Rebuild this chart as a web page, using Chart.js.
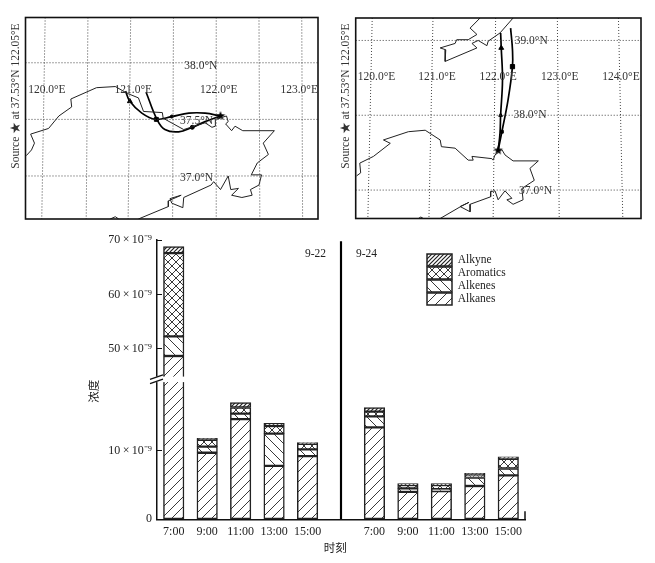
<!DOCTYPE html>
<html>
<head>
<meta charset="utf-8">
<title>Trajectories and VOC concentration</title>
<script src="https://cdn.jsdelivr.net/npm/chart.js@4"></script>
<style>
  html, body { margin: 0; background: #fff; }
  canvas { position: absolute; display: block; }
</style>
</head>
<body>
<canvas id="map1" width="330" height="230" style="left:0;top:0"></canvas>
<canvas id="map2" width="325" height="230" style="left:330px;top:0"></canvas>
<canvas id="bars" width="655" height="333" style="left:0;top:230px"></canvas>
<script>
// ---- bar chart data (units of 10^-9) ----
var times = ["7:00", "9:00", "11:00", "13:00", "15:00", "", "7:00", "9:00", "11:00", "13:00", "15:00"];
var alkanes   = [48.7, 9.7, 14.6, 7.8, 9.2, null, 13.4, 4.0, 4.1, 4.85, 6.4];
var alkenes   = [3.6, 0.9, 0.8, 4.7, 1.0, null, 1.6, 0.5, 0.3, 1.25, 1.0];
var aromatics = [15.3, 1.0, 0.9, 1.1, 0.8, null, 0.7, 0.5, 0.6, 0.4, 1.4];
var alkyne    = [1.2, 0.2, 0.7, 0.4, 0.2, null, 0.6, 0.2, 0.2, 0.2, 0.3];
var dividerTop = [null, null, null, null, null, 69.7, null, null, null, null, null];
var yTicks = [0, 10, 50, 60, 70];
var yTickText = ["0", "10\u2009×\u200910⁻⁹", "50\u2009×\u200910⁻⁹", "60\u2009×\u200910⁻⁹", "70\u2009×\u200910⁻⁹"];
var breakLow = 20, breakHigh = 43.9, breakFrac = 0.4912;

// ---- map 1 data ----
var m1CoastLon = [119.78,119.84,119.875,119.83,120.04,120.16,120.31,120.30,120.60,120.82,120.96,121.09,121.15,121.37,121.38,121.62,121.87,121.95,121.99,121.99,122.12,122.14,122.11,122.18,122.22,122.31,122.68,122.55,122.61,122.48,122.41,122.53,122.50,122.40,122.42,122.30,122.18,122.26,122.17,122.14,122.05,121.97,121.94,121.62,121.61,121.48,121.46,121.59,121.44,121.44,121.09];
var m1CoastLat = [37.18,37.23,37.29,37.37,37.42,37.53,37.61,37.68,37.78,37.79,37.73,37.69,37.57,37.56,37.51,37.41,37.47,37.43,37.44,37.50,37.53,37.48,37.46,37.40,37.44,37.40,37.40,37.29,37.19,37.115,37.01,37.01,36.92,36.88,36.83,36.81,36.83,36.89,36.88,37.00,36.88,36.95,36.92,36.81,36.72,36.76,36.80,36.83,36.78,36.73,36.62];
var m1IsleLon = [120.76,120.82,120.86];
var m1IsleLat = [36.62,36.64,36.62];
var m1TrackALon = [122.05,121.87,121.68,121.48,121.29,121.13,120.99,120.94];
var m1TrackALat = [37.53,37.555,37.555,37.525,37.50,37.555,37.66,37.75];
var m1TrackBLon = [122.05,121.87,121.72,121.56,121.40,121.31,121.18];
var m1TrackBLat = [37.53,37.48,37.43,37.39,37.41,37.495,37.74];
var m1GridTop = [120.0,120.5,121.0,121.5,122.0,122.5,123.0];
var m1GridBottom = [119.96,120.48,120.97,121.49,122.0,122.51,123.01];
var m1GridLat = [38.0,37.5,37.0];
var m1Text = ["120.0°E","121.0°E","122.0°E","123.0°E","38.0°N","37.5°N","37.0°N"];
var m1TextLon = [120.02,121.03,122.03,122.97,121.82,121.77,121.77];
var m1TextLat = [37.76,37.76,37.76,37.76,37.97,37.49,36.98];

// ---- map 2 data ----
var m2CoastLon = [119.78,119.845,119.83,120.05,120.32,120.21,120.61,120.88,121.12,121.14,121.36,121.57,121.65,121.63,121.95,121.97,122.0,122.11,122.16,122.24,122.29,122.695,122.56,122.63,122.43,122.45,122.29,122.19,122.27,122.16,122.05,122.0,121.93,121.93,121.60,121.60,121.44,121.58,121.45,121.12];
var m2CoastLat = [37.19,37.23,37.36,37.45,37.625,37.67,37.78,37.80,37.67,37.58,37.56,37.40,37.40,37.45,37.42,37.40,37.47,37.54,37.47,37.42,37.39,37.39,37.29,37.13,37.02,36.87,36.81,36.87,36.89,36.99,36.87,36.99,36.98,36.91,36.81,36.71,36.78,36.835,36.78,36.62];
var m2NorthLon = [121.76,121.60,121.71,121.57,121.385,121.36,121.12,121.21,121.20,121.71,121.63,121.73,121.87,121.89,122.08,122.29];
var m2NorthLat = [39.30,39.165,39.08,39.01,39.01,38.96,38.90,38.875,38.72,38.90,38.96,39.0,38.93,38.99,39.10,39.30];
var m2IsleLon = [120.77,120.81,120.85];
var m2IsleLat = [36.62,36.64,36.62];
var m2TrackALon = [122.05,122.08,122.09,122.12,122.10,122.09];
var m2TrackALat = [37.53,37.76,38.0,38.47,38.90,39.10];
var m2TrackBLon = [122.05,122.11,122.21,122.28,122.28,122.25];
var m2TrackBLat = [37.53,37.78,38.21,38.65,38.875,39.165];
var m2GridTop = [120.03,121.005,122.01,123.0,123.98];
var m2GridBottom = [119.96,120.94,121.97,123.03,124.05];
var m2GridLat = [39.0,38.0,37.0];
var m2Text = ["120.0°E","121.0°E","122.0°E","123.0°E","124.0°E","39.0°N","38.0°N","37.0°N"];
var m2TextLon = [120.10,121.07,122.05,123.04,124.02,122.58,122.56,122.65];
var m2TextLat = [38.51,38.51,38.51,38.51,38.51,38.99,38.0,36.99];

var sideText = "Source ★ at 37.53°N 122.05°E";
var SERIF = '"Liberation Serif", "Noto Sans CJK SC", serif';
var INK = "#222";

Chart.defaults.font.family = SERIF;
Chart.defaults.font.size = 11.5;
Chart.defaults.color = INK;

function zip(xs, ys) {
  return xs.map(function(x, i) { return { x: x, y: ys[i] }; });
}

// ---- maps ----
function starImage(r) {
  var c = document.createElement("canvas");
  c.width = c.height = r * 2 + 2;
  var g = c.getContext("2d");
  g.beginPath();
  for (var i = 0; i < 10; i++) {
    var rad = i % 2 ? r * 0.42 : r;
    var a = -Math.PI / 2 + i * Math.PI / 5;
    g.lineTo(r + 1 + rad * Math.cos(a), r + 1 + rad * Math.sin(a));
  }
  g.closePath();
  g.fillStyle = "#000";
  g.fill();
  return c;
}

var mapText = {
  id: "mapText",
  afterDraw: function(chart, args, opts) {
    var ctx = chart.ctx, a = chart.chartArea;
    ctx.save();
    ctx.strokeStyle = "#111";
    ctx.lineWidth = 1.6;
    ctx.strokeRect(a.left, a.top, a.right - a.left, a.bottom - a.top);
    ctx.font = "11.5px " + SERIF;
    ctx.fillStyle = "#333";
    ctx.textAlign = "center";
    ctx.textBaseline = "middle";
    opts.text.forEach(function(t, i) {
      ctx.fillText(t, chart.scales.x.getPixelForValue(opts.lon[i]), chart.scales.y.getPixelForValue(opts.lat[i]));
    });
    ctx.translate(16, 96);
    ctx.rotate(-Math.PI / 2);
    ctx.fillText(sideText, 0, 0);
    ctx.restore();
  }
};

function drawMap(id, o) {
  var datasets = [];
  o.gridTop.forEach(function(t, i) {
    datasets.push({ data: [{ x: t, y: o.latMax }, { x: o.gridBottom[i], y: o.latMin }], borderColor: "#444", borderWidth: 1, borderDash: [1, 2], pointRadius: 0, showLine: true });
  });
  o.gridLat.forEach(function(lat) {
    datasets.push({ data: [{ x: o.lonMin, y: lat }, { x: o.lonMax, y: lat }], borderColor: "#444", borderWidth: 1, borderDash: [1, 2], pointRadius: 0, showLine: true });
  });
  o.coasts.forEach(function(c) {
    datasets.push({ data: c, borderColor: "#222", borderWidth: 1, pointRadius: 0, showLine: true });
  });
  o.tracks.forEach(function(c) {
    datasets.push({ data: c, borderColor: "#000", borderWidth: 1.7, tension: 0.4, pointRadius: 0, showLine: true });
  });
  o.marks.forEach(function(m) {
    datasets.push({ data: [m.p], pointStyle: m.s, pointRadius: m.r, backgroundColor: "#000", borderColor: "#000", showLine: false });
  });
  new Chart(document.getElementById(id), {
    type: "scatter",
    data: { datasets: datasets },
    plugins: [mapText],
    options: {
      responsive: false,
      animation: false,
      layout: { padding: o.padding },
      scales: {
        x: { display: false, min: o.lonMin, max: o.lonMax },
        y: { display: false, min: o.latMin, max: o.latMax }
      },
      plugins: {
        legend: { display: false },
        tooltip: { enabled: false },
        mapText: { text: o.text, lon: o.textLon, lat: o.textLat }
      }
    }
  });
}

var star = starImage(5);

drawMap("map1", {
  lonMin: 119.77, lonMax: 123.19, latMin: 36.62, latMax: 38.40,
  padding: { left: 25.5, right: 12, top: 17.5, bottom: 11 },
  gridTop: m1GridTop, gridBottom: m1GridBottom, gridLat: m1GridLat,
  coasts: [zip(m1CoastLon, m1CoastLat), zip(m1IsleLon, m1IsleLat)],
  tracks: [zip(m1TrackALon, m1TrackALat), zip(m1TrackBLon, m1TrackBLat)],
  marks: [
    { p: { x: 120.99, y: 37.66 }, s: "triangle", r: 2.8 },
    { p: { x: 121.30, y: 37.50 }, s: "rect", r: 2.8 },
    { p: { x: 121.48, y: 37.525 }, s: "circle", r: 1.5 },
    { p: { x: 121.72, y: 37.43 }, s: "circle", r: 2 },
    { p: { x: 122.05, y: 37.53 }, s: star, r: 5 }
  ],
  text: m1Text, textLon: m1TextLon, textLat: m1TextLat
});

drawMap("map2", {
  lonMin: 119.765, lonMax: 124.342, latMin: 36.62, latMax: 39.30,
  padding: { left: 25.7, right: 14, top: 18, bottom: 11.5 },
  gridTop: m2GridTop, gridBottom: m2GridBottom, gridLat: m2GridLat,
  coasts: [zip(m2CoastLon, m2CoastLat), zip(m2NorthLon, m2NorthLat), zip(m2IsleLon, m2IsleLat)],
  tracks: [zip(m2TrackALon, m2TrackALat), zip(m2TrackBLon, m2TrackBLat)],
  marks: [
    { p: { x: 122.09, y: 38.0 }, s: "triangle", r: 2.2 },
    { p: { x: 122.10, y: 38.90 }, s: "triangle", r: 2.8 },
    { p: { x: 122.11, y: 37.78 }, s: "rect", r: 2 },
    { p: { x: 122.28, y: 38.65 }, s: "rect", r: 3 },
    { p: { x: 122.05, y: 37.53 }, s: star, r: 5 }
  ],
  text: m2Text, textLon: m2TextLon, textLat: m2TextLat
});

// ---- bars ----
function hatch(kind) {
  var n = kind === "dense" ? 4 : (kind === "cross" ? 8 : 10);
  var c = document.createElement("canvas");
  c.width = c.height = n;
  var g = c.getContext("2d");
  g.fillStyle = "#fff";
  g.fillRect(0, 0, n, n);
  g.strokeStyle = "#222";
  g.lineWidth = kind === "dense" ? 1.2 : 0.9;
  g.beginPath();
  if (kind !== "back") {
    g.moveTo(-1, 1); g.lineTo(1, -1);
    g.moveTo(0, n); g.lineTo(n, 0);
    g.moveTo(n - 1, n + 1); g.lineTo(n + 1, n - 1);
  }
  if (kind === "back" || kind === "cross") {
    g.moveTo(n - 1, -1); g.lineTo(n + 1, 1);
    g.moveTo(0, 0); g.lineTo(n, n);
    g.moveTo(-1, n - 1); g.lineTo(1, n + 1);
  }
  g.stroke();
  return g.createPattern(c, "repeat");
}

// linear axis with a piece cut out between breakLow and breakHigh
class BrokenScale extends Chart.LinearScale {
  getPixelForValue(v) {
    if (v === null || v === undefined) return NaN;
    var d;
    if (v <= breakLow) d = v / breakLow * breakFrac;
    else if (v < breakHigh) d = breakFrac;
    else d = breakFrac + (v - breakHigh) / (this.max - breakHigh) * (1 - breakFrac);
    return this.getPixelForDecimal(d);
  }
}
BrokenScale.id = "brokenLinear";
BrokenScale.defaults = {};
Chart.register(BrokenScale);

var barExtras = {
  id: "barExtras",
  beforeDraw: function(chart) {
    chart.legend.left = 426;
    chart.legend.top = 23;
  },
  afterDraw: function(chart) {
    var ctx = chart.ctx, y = chart.scales.y, x = chart.scales.x, a = chart.chartArea;
    var by = y.getPixelForValue(breakLow);
    var barRight = x.getPixelForValue(0) + 11;
    ctx.save();
    // the axis break across the axis and the first bar
    ctx.fillStyle = "#fff";
    ctx.fillRect(a.left - 2, by - 5.5, barRight - a.left + 3, 5.5);
    ctx.strokeStyle = "#111";
    ctx.lineWidth = 1.2;
    [0, 4.2].forEach(function(off) {
      ctx.beginPath();
      ctx.moveTo(a.left - 7, by - off + 1.5);
      ctx.lineTo(a.left + 6, by - off - 3);
      ctx.stroke();
    });
    // closing mark at the end of the time axis
    ctx.lineWidth = 1.5;
    ctx.beginPath();
    ctx.moveTo(a.right, a.bottom);
    ctx.lineTo(a.right, a.bottom - 8);
    ctx.stroke();
    // day labels
    ctx.font = "11.5px " + SERIF;
    ctx.fillStyle = INK;
    ctx.textAlign = "center";
    ctx.textBaseline = "middle";
    ctx.fillText("9-22", 315.5, y.getPixelForValue(67.5));
    ctx.fillText("9-24", 366.5, y.getPixelForValue(67.5));
    ctx.restore();
  }
};

function barSet(label, values, fill) {
  return { label: label, data: values, backgroundColor: fill, borderColor: "#222", borderWidth: 1.5, borderSkipped: false, barThickness: 20.5, stack: "day" };
}

new Chart(document.getElementById("bars"), {
  type: "bar",
  data: {
    labels: times,
    datasets: [
      barSet("Alkanes", alkanes, hatch("fore")),
      barSet("Alkenes", alkenes, hatch("back")),
      barSet("Aromatics", aromatics, hatch("cross")),
      barSet("Alkyne", alkyne, hatch("dense")),
      { label: "", data: dividerTop, backgroundColor: "#000", borderWidth: 0, barThickness: 1.5, stack: "day" }
    ]
  },
  plugins: [barExtras],
  options: {
    responsive: false,
    animation: false,
    layout: { padding: { left: 80, right: 130, top: 10, bottom: 0 } },
    scales: {
      x: {
        stacked: true,
        grid: { display: false, drawTicks: false },
        border: { color: "#111", width: 1.5 },
        ticks: { autoSkip: false, maxRotation: 0, padding: 5, font: { size: 12 } },
        title: { display: true, text: "时刻\u3000", font: { size: 11.5 }, padding: { top: 0, bottom: 7 } },
        afterFit: function(s) { s.height = 43.7; }
      },
      y: {
        type: "brokenLinear",
        stacked: true,
        min: 0,
        max: 70,
        grid: { drawOnChartArea: false, tickLength: -5, color: "#111", lineWidth: 1 },
        border: { color: "#111", width: 1.5 },
        ticks: {
          autoSkip: false,
          padding: 10,
          font: { size: 12 },
          callback: function(v) { return yTickText[yTicks.indexOf(v)]; }
        },
        afterBuildTicks: function(s) { s.ticks = yTicks.map(function(v) { return { value: v }; }); },
        afterFit: function(s) { s.width = 77; s.paddingTop = 0; s.paddingBottom = 0; },
        title: { display: true, text: "浓度\u3000\u3000", font: { size: 11.5 }, padding: { top: 8, bottom: 0 } }
      }
    },
    plugins: {
      tooltip: { enabled: false },
      legend: {
        position: "chartArea",
        align: "start",
        reverse: true,
        labels: {
          boxWidth: 25,
          boxHeight: 12,
          padding: 1,
          font: { size: 11.5, lineHeight: 1 },
          filter: function(item) { return item.text !== ""; }
        }
      }
    }
  }
});
</script>
</body>
</html>
